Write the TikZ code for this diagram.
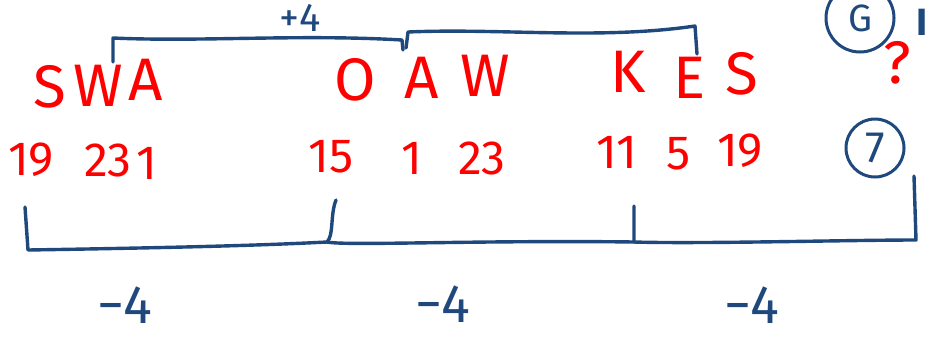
\documentclass[tikz,border=0pt]{standalone}
\usepackage{fontspec}
\setmainfont{Fira Sans}
\begin{document}
\begin{tikzpicture}[x=1pt,y=-1pt,
  ink/.style={draw=inkblue,line width=3.4pt,line cap=round,line join=round},
  redtxt/.style={text=red,font=\fontsize{60}{60}\selectfont,inner sep=0pt},
  rednum/.style={text=red,font=\fontsize{48}{48}\selectfont,inner sep=0pt},
  bluetxt/.style={text=inkblue,font=\fontsize{54}{54}\selectfont,inner sep=0pt}]
\definecolor{inkblue}{RGB}{31,73,125}
\useasboundingbox (0,0) rectangle (934,341);
\clip (0,0) rectangle (934,341);
% letters
\node[redtxt] (s1) at (50,87) {S};
\node[redtxt] (w1) at (98,86) {W};
\node[redtxt] (a1) at (146,80) {A};
\node[redtxt] (o2) at (355,80) {O};
\node[redtxt] (a2) at (422,78) {A};
\node[redtxt] (w2) at (485,76) {W};
\node[redtxt] (k3) at (628,72) {K};
\node[redtxt] (e3) at (690,78) {E};
\node[redtxt] (s3) at (742,74) {S};
\node[redtxt] (q) at (897,63) {?};
% numbers
\node[rednum] (n19) at (31,160) {19};
\node[rednum] (n23) at (108,160) {23};
\node[rednum] (n1) at (147,163) {1};
\node[rednum] (n15) at (331,157) {15};
\node[rednum] (n1b) at (412,158) {1};
\node[rednum] (n23b) at (482,158) {23};
\node[rednum] (n11) at (617,152) {11};
\node[rednum] (n5) at (679,154) {5};
\node[rednum] (n19b) at (740,151) {19};
% circled 7
\node[draw=inkblue,line width=3pt,circle,minimum size=58pt,inner sep=0pt,
  text=inkblue,font=\fontsize{44}{44}\selectfont] (c7) at (875,148) {7};
% circled G (cut at top)
\node[draw=inkblue,line width=3pt,circle,minimum size=68pt,inner sep=0pt,
  text=inkblue,font=\fontsize{38}{38}\selectfont] (cg) at (860,18) {G};
\node[bluetxt,font=\bfseries\fontsize{38}{38}\selectfont] (ib) at (922,22) {I};
% top braces
\coordinate (t1a) at (113,62);
\coordinate (t1b) at (113,38);
\coordinate (t1c) at (402,40);
\coordinate (t1d) at (403,50);
\draw[ink] (t1a) -- (t1b) .. controls (200,42) and (300,34) .. (t1c) -- (t1d);
\coordinate (t2a) at (406,48);
\coordinate (t2b) at (408,32);
\coordinate (t2c) at (695,26);
\coordinate (t2d) at (697,54);
\draw[ink] (t2a) -- (t2b) .. controls (500,28) and (600,40) .. (t2c) -- (t2d);
\node[bluetxt,font=\fontsize{40}{40}\selectfont] (p4) at (300,18) {+4};
% bottom brace
\coordinate (b0) at (25,207);
\coordinate (b1) at (28,250);
\coordinate (b2) at (327,242);
\coordinate (b3) at (336,200);
\coordinate (b4) at (634,242);
\coordinate (b5) at (634,206);
\coordinate (b6) at (916,240);
\coordinate (b7) at (914,176);
\draw[ink] (b0) -- (b1) .. controls (150,248) and (250,246) .. (b2)
  .. controls (334,235) and (330,215) .. (b3);
\draw[ink] (b2) .. controls (345,246) and (480,240) .. (b4) -- (b5);
\draw[ink] (b4) .. controls (700,244) and (850,240) .. (b6) -- (b7);
% -4 labels
\node[bluetxt] (m1) at (125,305) {−4};
\node[bluetxt] (m2) at (443,304) {−4};
\node[bluetxt] (m3) at (752,305) {−4};
\end{tikzpicture}
\end{document}
